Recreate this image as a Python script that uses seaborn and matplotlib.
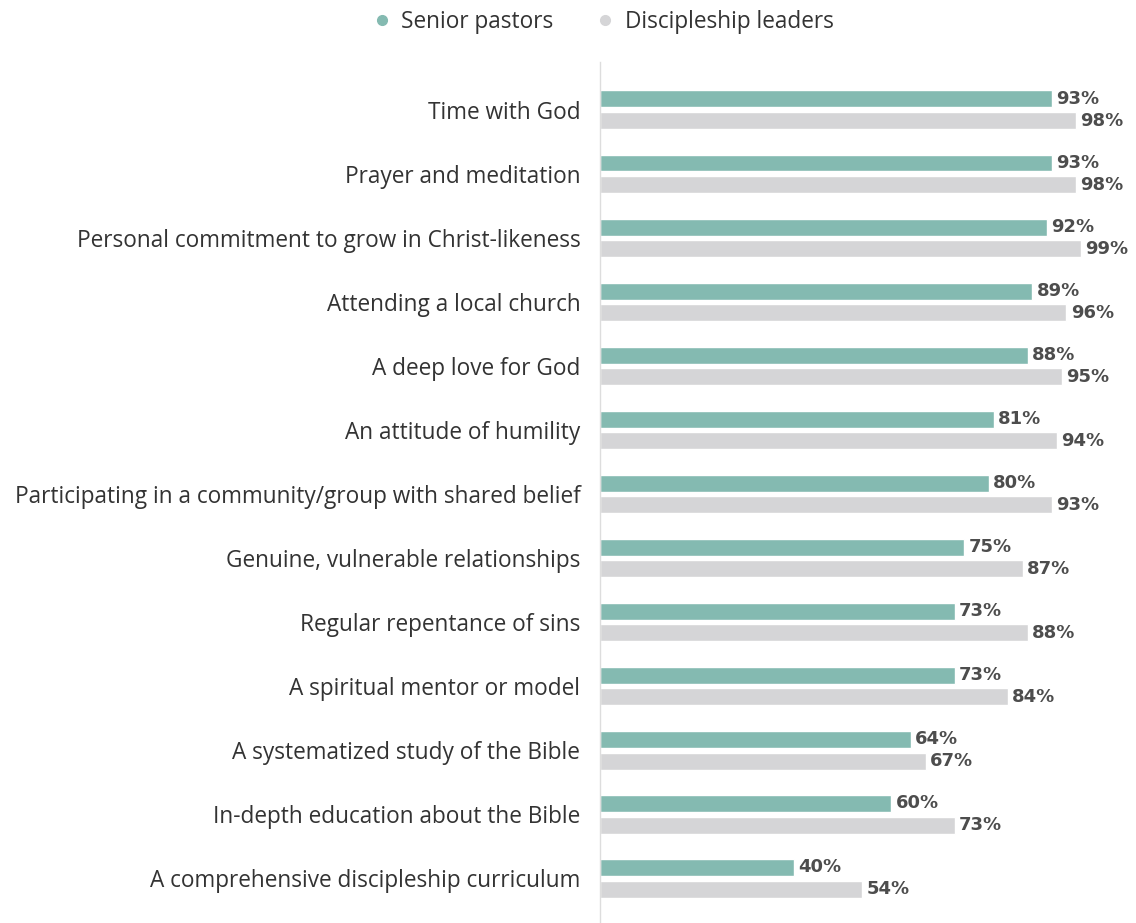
import pandas as pd
import matplotlib.pyplot as plt
import seaborn as sns
from matplotlib.lines import Line2D

# values
items = [
    'Time with God',
    'Prayer and meditation',
    'Personal commitment to grow in Christ-likeness',
    'Attending a local church',
    'A deep love for God',
    'An attitude of humility',
    'Participating in a community/group with shared belief',
    'Genuine, vulnerable relationships',
    'Regular repentance of sins',
    'A spiritual mentor or model',
    'A systematized study of the Bible',
    'In-depth education about the Bible',
    'A comprehensive discipleship curriculum',
]
senior_pastors = [93, 93, 92, 89, 88, 81, 80, 75, 73, 73, 64, 60, 40]
discipleship_leaders = [98, 98, 99, 96, 95, 94, 93, 87, 88, 84, 67, 73, 54]
groups = ['Senior pastors', 'Discipleship leaders']
colors = ['#84BAB1', '#D5D5D7']

df = pd.DataFrame({
    'item': items * 2,
    'pct': senior_pastors + discipleship_leaders,
    'group': [groups[0]] * len(items) + [groups[1]] * len(items),
})

sns.set_style('white')
plt.rcParams['font.family'] = ['Open Sans', 'DejaVu Sans']

fig = plt.figure(figsize=(11.36, 9.23), dpi=100)
ax = fig.add_axes([0.528, 0.0, 0.472, 0.933])

sns.barplot(data=df, y='item', x='pct', hue='group', order=items, hue_order=groups,
            palette=colors, saturation=1, orient='h', width=0.68, gap=0.22,
            legend=False, ax=ax)

for cont in ax.containers:
    ax.bar_label(cont, labels=[f'{v:.0f}%' for v in cont.datavalues], padding=3,
                 fontsize=13, fontweight='bold', color='#4d4d4d',
                 family=['DejaVu Sans'])

ax.set_xlim(0, 110.3)
ax.set_ylim(12.7, -0.75)
ax.set_xlabel('')
ax.set_ylabel('')
ax.set_xticks([])
ax.tick_params(axis='y', length=0, pad=14, labelsize=16.3, labelcolor='#333333')
for s in ['top', 'right', 'bottom']:
    ax.spines[s].set_visible(False)
ax.spines['left'].set_color('#dddddd')
ax.spines['left'].set_linewidth(1)

handles = [Line2D([], [], marker='o', linestyle='', markersize=7, color=c) for c in colors]
fig.legend(handles, groups, loc='center', bbox_to_anchor=(0.531, 0.976), ncol=2,
           frameon=False, fontsize=16.3, handlelength=0.8, handletextpad=0.45,
           columnspacing=1.9, labelcolor='#333333')

fig.savefig('out.png', dpi=100)
